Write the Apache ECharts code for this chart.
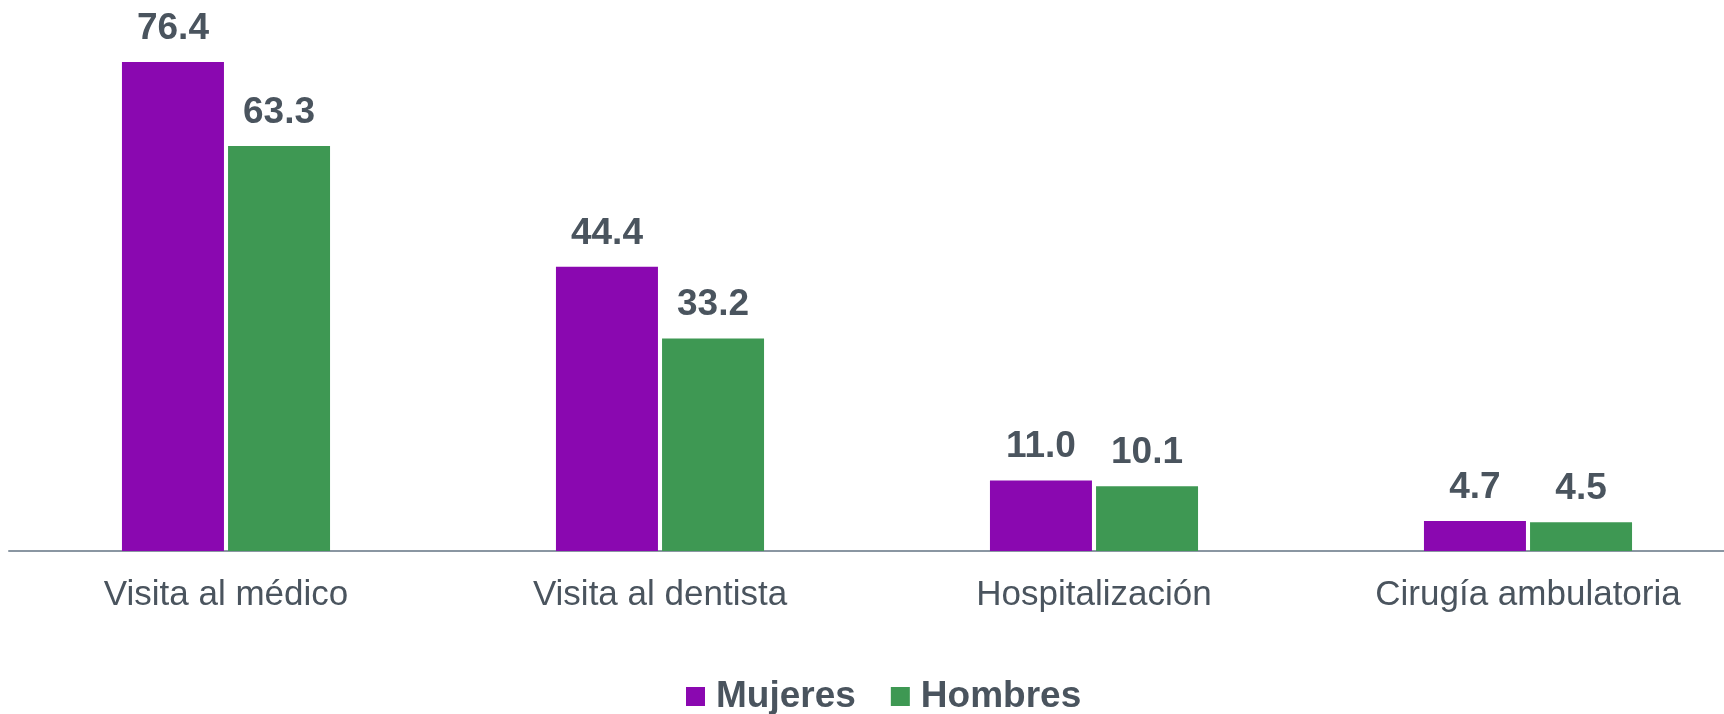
<!DOCTYPE html>
<html>
<head>
<meta charset="utf-8">
<script src="https://cdn.jsdelivr.net/npm/echarts@6/dist/echarts.min.js"></script>
<style>
html,body{margin:0;padding:0;background:#fff;overflow:hidden;width:1724px;height:714px;}
#chart{width:1745px;height:714px;}
</style>
</head>
<body>
<div id="chart"></div>
<script>
const categories = ['Visita al médico', 'Visita al dentista', 'Hospitalización', 'Cirugía ambulatoria'];
const mujeres = [76.4, 44.4, 11.0, 4.7];
const hombres = [63.3, 33.2, 10.1, 4.5];
const seriesNames = ['Mujeres', 'Hombres'];

const FONT = '"Liberation Sans", Arial, sans-serif';
const TEXT = '#4a545e';

const chart = echarts.init(document.getElementById('chart'), null, {renderer: 'canvas'});
const labelCfg = {
  show: true,
  position: 'top',
  distance: 15,
  fontFamily: FONT,
  fontSize: 37,
  fontWeight: 'bold',
  color: TEXT,
  formatter: p => p.value.toFixed(1)
};
chart.setOption({
  animation: false,
  grid: {left: 9, right: 0, top: 39, height: 512, containLabel: false},
  legend: {
    data: seriesNames,
    left: 686,
    top: 678,
    padding: 0,
    itemWidth: 19,
    itemHeight: 19,
    itemGap: 35,
    icon: 'rect',
    textStyle: {fontFamily: FONT, fontSize: 37, fontWeight: 'bold', color: TEXT, padding: [0, 0, 0, 6]}
  },
  xAxis: {
    type: 'category',
    data: categories,
    axisLine: {show: true, lineStyle: {color: '#8a96a2', width: 2}},
    axisTick: {show: false},
    axisLabel: {fontFamily: FONT, fontSize: 35, color: TEXT, margin: 27}
  },
  yAxis: {
    type: 'value',
    min: 0,
    max: 80,
    show: false,
    splitLine: {show: false}
  },
  series: [
    {name: seriesNames[0], type: 'bar', data: mujeres, barWidth: 102, barGap: '4%',
     itemStyle: {color: '#8a08b0'}, label: labelCfg},
    {name: seriesNames[1], type: 'bar', data: hombres, barWidth: 102, barGap: '4%',
     itemStyle: {color: '#3e9853'}, label: labelCfg}
  ]
});
</script>
</body>
</html>
